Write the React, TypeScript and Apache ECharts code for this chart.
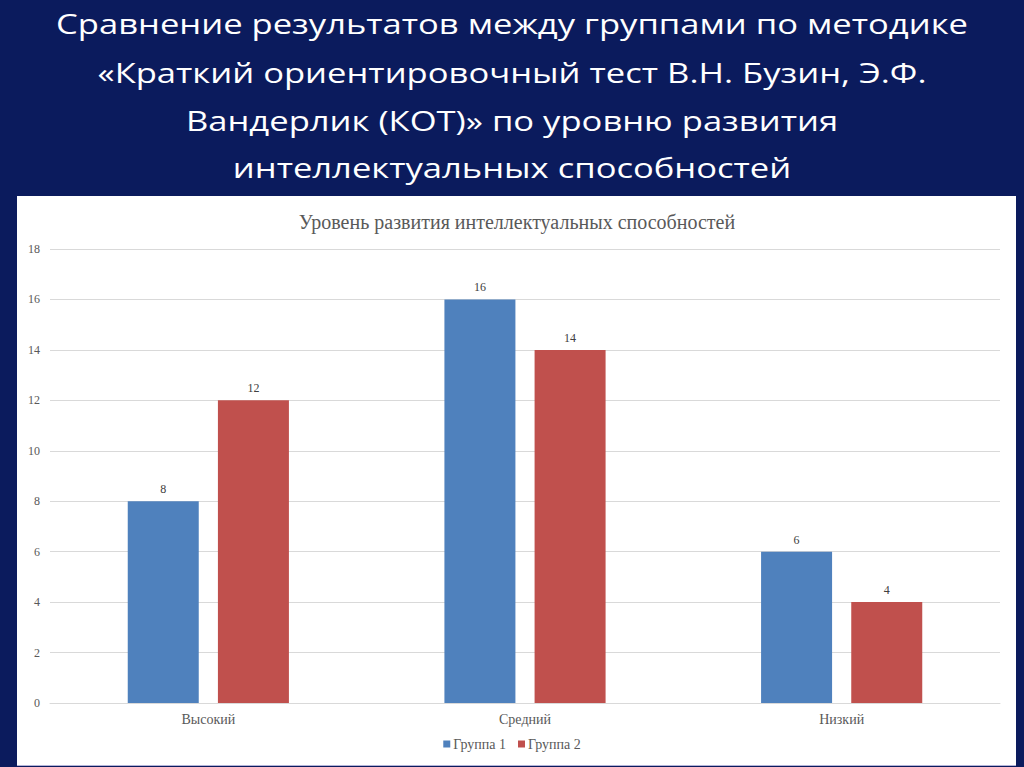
import React, { useEffect, useRef } from "react";
import * as echarts from "echarts";

const categories = ["Высокий", "Средний", "Низкий"];
const group1 = [8, 16, 6];
const group2 = [12, 14, 4];
const seriesNames = ["Группа 1", "Группа 2"];
const slideTitleLines = [
  "Сравнение результатов между группами по методике",
  "«Краткий ориентировочный тест В.Н. Бузин, Э.Ф.",
  "Вандерлик (КОТ)» по уровню развития",
  "интеллектуальных способностей",
];
const chartTitle = "Уровень развития интеллектуальных способностей";

export default function App() {
  const ref = useRef<HTMLDivElement>(null);
  useEffect(() => {
    if (!ref.current) return;
    const chart = echarts.init(ref.current, undefined, { renderer: "svg" });
    const serif = "'Liberation Serif', 'Times New Roman', serif";
    const labelStyle = {
      show: true,
      position: "top" as const,
      distance: 6,
      fontFamily: serif,
      fontSize: 12,
      color: "#404040",
    };
    const lineYs = [23, 72, 120, 167];
    const titleTexts = slideTitleLines.map((t, i) => ({
      type: "text",
      x: 512,
      y: lineYs[i],
      scaleX: 1.235,
      style: {
        text: t,
        x: 0,
        y: 0,
        textAlign: "center",
        textVerticalAlign: "middle",
        fill: "#ffffff",
        fontFamily: "'Open Sans', sans-serif",
        fontSize: 28,
      },
    }));
    chart.setOption({
      animation: false,
      backgroundColor: "#0b1b5d",
      graphic: [
        {
          type: "rect",
          shape: { x: 17, y: 196, width: 999, height: 569 },
          style: { fill: "#ffffff" },
          z: -10,
        },
        {
          type: "line",
          shape: { x1: 17, y1: 765.5, x2: 1016, y2: 765.5 },
          style: { stroke: "#b4b4d8", lineWidth: 1 },
          z: -9,
        },
        ...titleTexts,
      ],
      title: [
        {
          text: chartTitle,
          left: 512,
          top: 207,
          textAlign: "center",
          textStyle: {
            color: "#595959",
            fontFamily: serif,
            fontSize: 20,
            fontWeight: "normal",
          },
        },
      ],
      legend: {
        data: seriesNames,
        bottom: 11,
        left: "center",
        itemWidth: 7,
        itemHeight: 7,
        itemGap: 12,
        icon: "rect",
        textStyle: { fontFamily: serif, fontSize: 14, color: "#595959", padding: [0, 0, 0, -2] },
      },
      grid: { left: 50, right: 24, top: 249, bottom: 64, containLabel: false },
      xAxis: {
        type: "category",
        data: categories,
        axisTick: { show: false },
        axisLine: { lineStyle: { color: "#d9d9d9" } },
        axisLabel: { fontFamily: serif, fontSize: 14, color: "#595959", margin: 9 },
      },
      yAxis: {
        type: "value",
        min: 0,
        max: 18,
        interval: 2,
        axisLine: { show: false },
        axisTick: { show: false },
        splitLine: { lineStyle: { color: "#d9d9d9" } },
        axisLabel: { fontFamily: serif, fontSize: 12, color: "#595959", margin: 10 },
      },
      series: [
        {
          name: seriesNames[0],
          type: "bar",
          data: group1,
          barWidth: 71,
          barGap: "27%",
          itemStyle: { color: "#4f81bd" },
          label: labelStyle,
        },
        {
          name: seriesNames[1],
          type: "bar",
          data: group2,
          barWidth: 71,
          itemStyle: { color: "#c0504d" },
          label: labelStyle,
        },
      ],
    });
    return () => chart.dispose();
  }, []);
  return (
    <div
      ref={ref}
      style={{ position: "absolute", left: 0, top: 0, width: 1024, height: 767 }}
    />
  );
}
